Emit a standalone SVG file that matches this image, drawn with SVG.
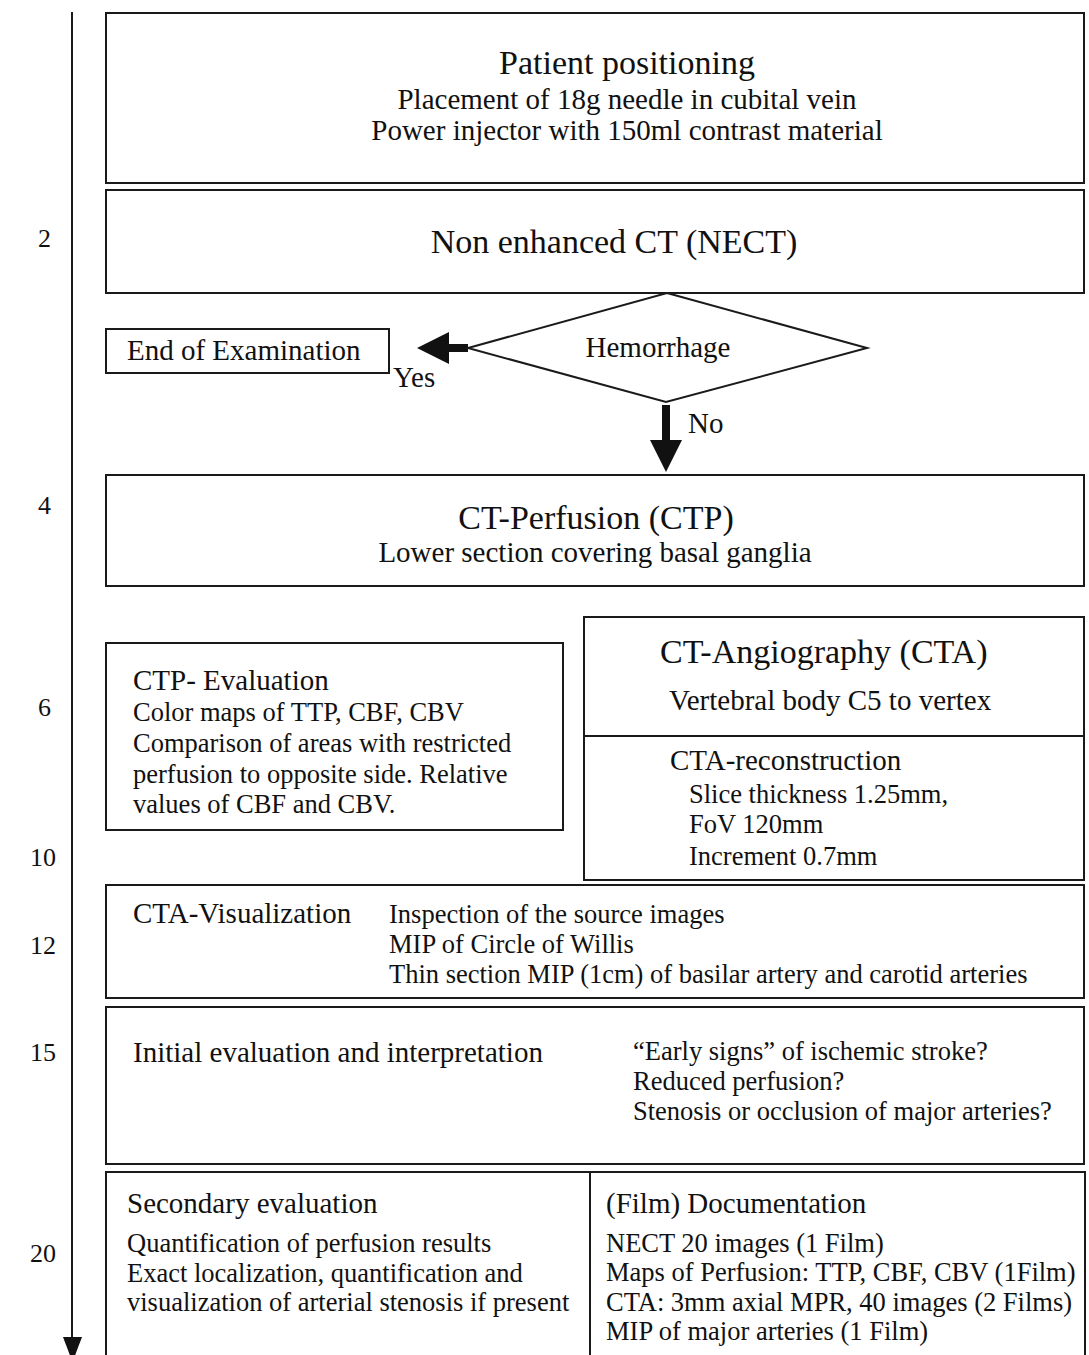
<svg xmlns="http://www.w3.org/2000/svg" width="1089" height="1355" viewBox="0 0 1089 1355">
<style>
text{font-family:"Liberation Serif","Times New Roman",serif;fill:#111}
.h{font-size:34px}
.m{font-size:29px}
.s{font-size:26.5px}
.n{font-size:26px}
.box{fill:#fff;stroke:#1a1a1a;stroke-width:2}
.ln{stroke:#1a1a1a;stroke-width:2;fill:none}
.c{text-anchor:middle}
</style>
<rect width="1089" height="1355" fill="#fff"/>
<g id="connectors">
<line class="ln" x1="72" y1="12" x2="72" y2="1340"/>
<polygon points="63,1337 82,1337 72.5,1362" fill="#111"/>
<rect x="446" y="344" width="22" height="8" fill="#111"/>
<polygon points="417,348 449,332 449,364" fill="#111"/>
<rect x="662" y="405" width="8" height="37" fill="#111"/>
<polygon points="650,440 682,440 666,472" fill="#111"/>
<text class="m" x="393" y="387">Yes</text>
<text class="m" x="688" y="433">No</text>
</g>
<g id="timeline-labels">
<text class="n" x="38" y="247">2</text>
<text class="n" x="38" y="514">4</text>
<text class="n" x="38" y="716">6</text>
<text class="n" x="30" y="866">10</text>
<text class="n" x="30" y="954">12</text>
<text class="n" x="30" y="1061">15</text>
<text class="n" x="30" y="1262">20</text>
</g>
<g id="patient-positioning">
<rect class="box" x="106" y="13" width="978" height="170"/>
<text class="h c" x="627" y="74">Patient positioning</text>
<text class="m c" x="627" y="109">Placement of 18g needle in cubital vein</text>
<text class="m c" x="627" y="140">Power injector with 150ml contrast material</text>
</g>
<g id="nect">
<rect class="box" x="106" y="190" width="978" height="103"/>
<text class="h c" x="614" y="253">Non enhanced CT (NECT)</text>
</g>
<g id="end-of-examination">
<rect class="box" x="106" y="329" width="283" height="44"/>
<text class="m" x="127" y="360">End of Examination</text>
</g>
<g id="hemorrhage">
<polygon class="box" points="667,293 867,348 666,402 468,348"/>
<text class="m c" x="658" y="357">Hemorrhage</text>
</g>
<g id="ctp">
<rect class="box" x="106" y="475" width="978" height="111"/>
<text class="h c" x="596" y="529">CT-Perfusion (CTP)</text>
<text class="m c" x="595" y="562">Lower section covering basal ganglia</text>
</g>
<g id="ctp-evaluation">
<rect class="box" x="106" y="643" width="457" height="187"/>
<text class="m" x="133" y="690">CTP- Evaluation</text>
<text class="s" x="133" y="721">Color maps of TTP, CBF, CBV</text>
<text class="s" x="133" y="752">Comparison of areas with restricted</text>
<text class="s" x="133" y="783">perfusion to opposite side. Relative</text>
<text class="s" x="133" y="813">values of CBF and CBV.</text>
</g>
<g id="cta">
<rect class="box" x="584" y="617" width="500" height="263"/>
<line class="ln" x1="584" y1="736" x2="1084" y2="736"/>
<text class="h" x="660" y="663">CT-Angiography (CTA)</text>
<text class="m" x="669" y="710">Vertebral body C5 to vertex</text>
<text class="m" x="670" y="770">CTA-reconstruction</text>
<text class="s" x="689" y="803">Slice thickness 1.25mm,</text>
<text class="s" x="689" y="833">FoV 120mm</text>
<text class="s" x="689" y="865">Increment 0.7mm</text>
</g>
<g id="cta-visualization">
<rect class="box" x="106" y="885" width="978" height="113"/>
<text class="m" x="133" y="923">CTA-Visualization</text>
<text class="s" x="389" y="923">Inspection of the source images</text>
<text class="s" x="389" y="953">MIP of Circle of Willis</text>
<text class="s" x="389" y="983">Thin section MIP (1cm) of basilar artery and carotid arteries</text>
</g>
<g id="initial-evaluation">
<rect class="box" x="106" y="1007" width="978" height="157"/>
<text class="m" x="133" y="1062">Initial evaluation and interpretation</text>
<text class="s" x="633" y="1060">“Early signs” of ischemic stroke?</text>
<text class="s" x="633" y="1090">Reduced perfusion?</text>
<text class="s" x="633" y="1120">Stenosis or occlusion of major arteries?</text>
</g>
<g id="secondary-evaluation">
<rect class="box" x="106" y="1172" width="484" height="200"/>
<text class="m" x="127" y="1213">Secondary evaluation</text>
<text class="s" x="127" y="1252">Quantification of perfusion results</text>
<text class="s" x="127" y="1282">Exact localization, quantification and</text>
<text class="s" x="127" y="1311">visualization of arterial stenosis if present</text>
</g>
<g id="documentation">
<rect class="box" x="590" y="1172" width="495" height="200"/>
<text class="m" x="606" y="1213">(Film) Documentation</text>
<text class="s" x="606" y="1252">NECT 20 images (1 Film)</text>
<text class="s" x="606" y="1281">Maps of Perfusion: TTP, CBF, CBV (1Film)</text>
<text class="s" x="606" y="1311">CTA: 3mm axial MPR, 40 images (2 Films)</text>
<text class="s" x="606" y="1340">MIP of major arteries (1 Film)</text>
</g>
</svg>
